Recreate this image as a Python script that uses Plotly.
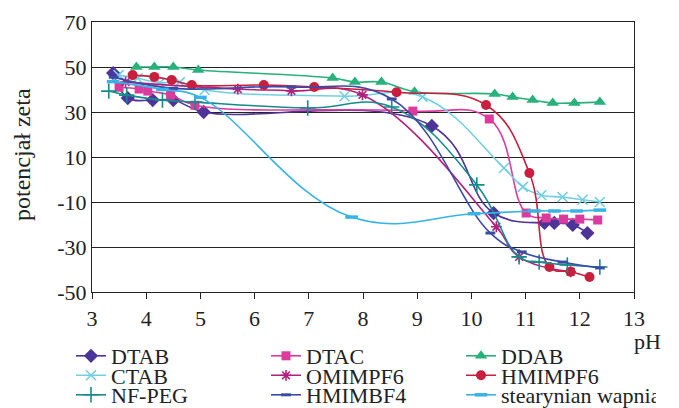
import plotly.graph_objects as go

W, H = 679, 408

# ---- data (pH, zeta potential) ----
dtab_x = [3.39, 3.66, 4.12, 4.5, 5.06, 9.27, 10.41, 11.35, 11.53, 11.87, 12.14]
dtab_y = [47.3, 36.2, 35.3, 35.3, 30.0, 23.8, -14.9, -19.3, -19.3, -20.2, -23.8]

dtac_x = [3.5, 3.87, 4.03, 4.45, 4.9, 8.92, 10.33, 11.01, 11.38, 11.7, 12.0, 12.33]
dtac_y = [41.0, 40.2, 39.3, 37.5, 33.0, 30.4, 26.9, -14.9, -17.1, -17.6, -17.6, -18.0]

ddab_x = [3.82, 4.15, 4.5, 4.96, 7.44, 7.85, 8.34, 8.95, 10.43, 10.76, 11.13, 11.5, 11.9, 12.37]
ddab_y = [50.0, 50.0, 50.0, 48.7, 45.1, 43.3, 43.3, 39.0, 38.0, 36.7, 35.3, 34.0, 34.0, 34.4]

ctab_x = [3.49, 3.84, 4.25, 4.62, 5.08, 7.66, 9.1, 10.6, 10.95, 11.29, 11.68, 12.05, 12.37]
ctab_y = [46.4, 45.0, 43.0, 43.3, 39.8, 37.0, 36.7, 5.1, -3.3, -7.0, -7.8, -9.0, -10.0]

omim_x = [3.62, 5.69, 6.68, 7.99, 10.46, 10.88, 11.83]
omim_y = [43.3, 40.2, 39.4, 37.6, -21.0, -34.4, -41.0]

hmimpf6_x = [3.75, 4.15, 4.47, 4.84, 6.17, 7.1, 8.62, 10.27, 11.07, 11.44, 11.83, 12.18]
hmimpf6_y = [46.4, 45.6, 44.2, 42.0, 42.0, 41.1, 38.8, 33.1, 2.9, -38.9, -41.0, -43.3]

nfpeg_x = [3.31, 3.64, 4.3, 4.9, 6.98, 8.53, 10.1, 10.88, 11.25, 11.77, 12.37]
nfpeg_y = [39.3, 37.5, 35.3, 34.4, 31.8, 32.2, -2.4, -34.4, -36.7, -38.0, -38.9]

hmimbf4_x = [3.4, 4.5, 6.68, 8.53, 10.35, 10.93, 11.68, 12.37]
hmimbf4_y = [45.5, 40.5, 41.1, 35.8, -23.8, -32.2, -36.7, -39.3]

stear_x = [3.39, 4.3, 5.0, 7.79, 10.05, 11.16, 11.53, 11.94, 12.37]
stear_y = [43.5, 40.0, 36.5, -16.7, -15.2, -14.0, -14.0, -14.0, -13.6]

names = ["DTAB", "DTAC", "DDAB", "CTAB", "OMIMPF6", "HMIMPF6", "NF-PEG", "HMIMBF4", "stearynian wapnia"]
xs = [dtab_x, dtac_x, ddab_x, ctab_x, omim_x, hmimpf6_x, nfpeg_x, hmimbf4_x, stear_x]
ys = [dtab_y, dtac_y, ddab_y, ctab_y, omim_y, hmimpf6_y, nfpeg_y, hmimbf4_y, stear_y]

y_ticks = [-50, -30, -10, 10, 30, 50, 70]
y_ticktext = ["-50", "-30", "-10", "10", "30", "50", "70"]
x_ticks = list(range(3, 14))

# ---- styles ----
colors = ["#4E3399", "#DC3B9D", "#27B17B", "#72CFE2", "#B3217E",
          "#C71F3D", "#178B8B", "#3A4BA6", "#37B3E5"]
markers = [
    dict(symbol="diamond", size=11),
    dict(symbol="square", size=9),
    dict(symbol="triangle-up", size=11),
    dict(symbol="x-thin-open", size=10, line=dict(width=1.6)),
    dict(symbol="asterisk-open", size=9, line=dict(width=1.6)),
    dict(symbol="circle", size=10),
    dict(symbol="cross-thin-open", size=11, line=dict(width=1.6)),
    dict(symbol="line-ew-open", size=7, line=dict(width=3)),
    dict(symbol="line-ew-open", size=9, line=dict(width=3.5)),
]
legend_ids = ["legend", "legend", "legend",
              "legend2", "legend2", "legend2",
              "legend3", "legend3", "legend3"]

FONT = "Liberation Serif"

fig = go.Figure()
for n, x, y, c, m, lg in zip(names, xs, ys, colors, markers, legend_ids):
    mk = dict(m)
    mk["color"] = c
    if "line" in mk:
        mk["line"] = dict(mk["line"], color=c)
    fig.add_trace(go.Scatter(
        x=x, y=y, name=n, mode="lines+markers",
        line=dict(color=c, width=1.6, shape="spline", smoothing=1.2),
        marker=mk, legend=lg,
    ))

x0, x1 = 92 / W, 634 / W
y0, y1 = 1 - 292 / H, 1 - 22 / H

fig.update_layout(
    width=W, height=H,
    margin=dict(l=0, r=0, t=0, b=0, autoexpand=False),
    paper_bgcolor="white", plot_bgcolor="white",
    font=dict(family=FONT, size=22, color="#222"),
    xaxis=dict(domain=[x0, x1], range=[3, 13], tickvals=x_ticks,
               ticks="outside", ticklen=6, tickcolor="#222", automargin=False,
               showline=True, linecolor="#222", linewidth=1.2, mirror=True,
               showgrid=False, zeroline=False,
               tickfont=dict(family=FONT, size=22, color="#222")),
    yaxis=dict(domain=[y0, y1], range=[-50, 70], tickvals=y_ticks, ticktext=y_ticktext,
               ticks="", showline=True, linecolor="#222", linewidth=1.2, mirror=True,
               showgrid=True, gridcolor="#222", gridwidth=1.2, zeroline=False,
               automargin=False,
               tickfont=dict(family=FONT, size=22, color="#222")),
    showlegend=True,
)

leg_common = dict(orientation="h", entrywidth=150, entrywidthmode="pixels",
                  xanchor="left", yanchor="middle", bgcolor="rgba(0,0,0,0)",
                  font=dict(family=FONT, size=22, color="#222"),
                  itemclick=False, itemdoubleclick=False)
lx = 71 / W
fig.update_layout(
    legend=dict(leg_common, x=lx, y=1 - 356 / H),
    legend2=dict(leg_common, x=lx, y=1 - 375.5 / H),
    legend3=dict(leg_common, x=lx, y=1 - 395 / H),
)

fig.add_annotation(text="pH", x=647 / W, y=1 - 341 / H, xref="paper", yref="paper",
                   showarrow=False, xanchor="center", yanchor="middle",
                   font=dict(family=FONT, size=22, color="#222"))
fig.add_annotation(text="potencjał zeta", x=22 / W, y=1 - 155 / H, xref="paper", yref="paper",
                   showarrow=False, textangle=-90, xanchor="center", yanchor="middle",
                   font=dict(family=FONT, size=24, color="#222"))

fig.write_html("out.html",
               config={"displayModeBar": False},
               post_script="document.body.style.margin='0px';document.body.style.padding='0px';")
